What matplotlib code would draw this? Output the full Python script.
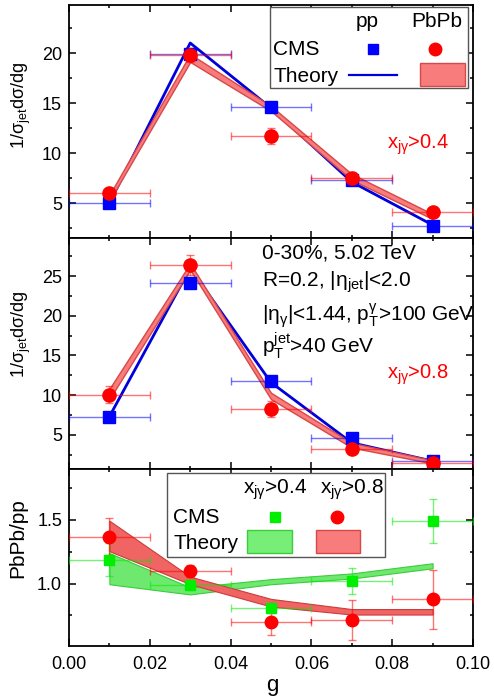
import matplotlib
matplotlib.use('Agg')
import matplotlib.pyplot as plt
import matplotlib.patches as mpatches
from matplotlib.ticker import MultipleLocator

plt.rcParams['font.family'] = ['Liberation Sans', 'DejaVu Sans']
plt.rcParams['mathtext.fontset'] = 'custom'
plt.rcParams['mathtext.rm'] = 'Liberation Sans'
plt.rcParams['mathtext.it'] = 'Liberation Sans'
plt.rcParams['mathtext.default'] = 'regular'

g = [0.01, 0.03, 0.05, 0.07, 0.09]
g_half = 0.01

# xjg > 0.4
pp04 = [4.97, 19.9, 14.56, 7.3, 2.7]
pp04_err = [0.5, 0.4, 0.4, 0.3, 0.2]
pb04 = [5.98, 19.8, 11.75, 7.5, 4.12]
pb04_err = [0.4, 0.7, 0.8, 0.6, 0.3]
th_pp04 = [5.0, 21.0, 14.5, 7.1, 2.8]
th_pb04_lo = [5.2, 19.1, 14.2, 7.3, 3.4]
th_pb04_hi = [5.8, 19.9, 14.7, 7.9, 3.9]

# xjg > 0.8
pp08 = [7.28, 24.1, 11.8, 4.58, 1.7]
pp08_err = [0.4, 0.6, 0.5, 0.3, 0.2]
pb08 = [10.06, 26.4, 8.25, 3.19, 1.42]
pb08_err = [1.1, 1.3, 1.0, 0.4, 0.3]
th_pp08 = [7.3, 26.0, 11.6, 4.0, 1.7]
th_pb08_lo = [9.5, 25.8, 9.5, 3.4, 1.4]
th_pb08_hi = [10.8, 26.6, 10.3, 4.0, 1.8]

# PbPb/pp
r04 = [1.186, 0.99, 0.81, 1.02, 1.49]
r04_err = [0.13, 0.04, 0.04, 0.1, 0.175]
r08 = [1.368, 1.10, 0.70, 0.713, 0.876]
r08_err = [0.145, 0.05, 0.10, 0.155, 0.23]
th_r04_lo = [0.995, 0.915, 0.995, 1.04, 1.12]
th_r04_hi = [1.24, 0.97, 1.035, 1.08, 1.16]
th_r08_lo = [1.255, 0.995, 0.82, 0.757, 0.757]
th_r08_hi = [1.494, 1.055, 0.88, 0.80, 0.80]

BLUE = '#0000ff'
RED = '#ff0000'
GREEN = '#00ee00'
RED_BAND = '#f87c7c'
RED_EDGE = '#d84848'
GREEN_BAND = '#6ee86e'
GREEN_EDGE = '#3ccc3c'

W, H = 494, 700
fig = plt.figure(figsize=(W / 100, H / 100), dpi=100)


def add_ax(top, bottom):
    return fig.add_axes([69 / W, 1 - bottom / H, 404 / W, (bottom - top) / H])


ax1 = add_ax(5, 238)
ax2 = add_ax(238, 469)
ax3 = add_ax(469, 646)


def style(ax):
    ax.set_xlim(0, 0.1)
    ax.xaxis.set_major_locator(MultipleLocator(0.02))
    ax.xaxis.set_minor_locator(MultipleLocator(0.01))
    ax.tick_params(which='both', direction='in', top=True, right=True,
                   labelsize=13, width=1.1)
    ax.tick_params(which='major', length=5)
    ax.tick_params(which='minor', length=2.5)
    ax.tick_params(axis='x', pad=7)
    ax.tick_params(axis='y', pad=5)
    for s in ax.spines.values():
        s.set_linewidth(1.3)


def points(ax, y, yerr, color, marker, ms):
    ax.errorbar(g, y, xerr=g_half, yerr=yerr, fmt='none', ecolor=color,
                elinewidth=1, capsize=3, capthick=1, alpha=0.55, zorder=4)
    ax.plot(g, y, ls='none', marker=marker, color=color, ms=ms, zorder=5)


def spectrum(ax, pp, pp_err, pb, pb_err, th_pp, lo, hi):
    ax.plot(g, th_pp, color='#0000dd', lw=2, zorder=2)
    ax.fill_between(g, lo, hi, facecolor=RED_BAND, edgecolor=RED_EDGE,
                    lw=1, zorder=3)
    points(ax, pp, pp_err, BLUE, 's', 8.5)
    points(ax, pb, pb_err, RED, 'o', 9.5)


# top panel
style(ax1)
spectrum(ax1, pp04, pp04_err, pb04, pb04_err, th_pp04, th_pb04_lo, th_pb04_hi)
ax1.set_ylim(1.5, 24.8)
ax1.yaxis.set_major_locator(MultipleLocator(5))
ax1.yaxis.set_minor_locator(MultipleLocator(2.5))
ax1.tick_params(axis='x', labelbottom=False)
ax1.text(0.786, 0.385, r'x$_{j\gamma}$>0.4', color=RED, fontsize=14.5,
         transform=ax1.transAxes)

# legend of top panel
T = ax1.transAxes
ax1.add_patch(mpatches.Rectangle((0.4975, 0.642), 0.49, 0.351, transform=T,
                                 facecolor='white', edgecolor='#555555',
                                 lw=1, zorder=6))
ax1.text(0.737, 0.905, 'pp', fontsize=15, ha='center', transform=T, zorder=7)
ax1.text(0.910, 0.905, 'PbPb', fontsize=15, ha='center', transform=T, zorder=7)
ax1.text(0.506, 0.785, 'CMS', fontsize=15, transform=T, zorder=7)
ax1.text(0.506, 0.671, 'Theory', fontsize=15, transform=T, zorder=7)
ax1.plot([0.752], [0.812], marker='s', color=BLUE, ms=7.5, transform=T, zorder=7)
ax1.plot([0.906], [0.812], marker='o', color=RED, ms=9, transform=T, zorder=7)
ax1.plot([0.694, 0.811], [0.70, 0.70], color='#0000dd', lw=1.6, transform=T,
         zorder=7)
ax1.add_patch(mpatches.Rectangle((0.869, 0.652), 0.111, 0.098, transform=T,
                                 facecolor=RED_BAND, edgecolor=RED_EDGE,
                                 lw=1, zorder=7))

# middle panel
style(ax2)
spectrum(ax2, pp08, pp08_err, pb08, pb08_err, th_pp08, th_pb08_lo, th_pb08_hi)
ax2.set_ylim(0.7, 29.8)
ax2.yaxis.set_major_locator(MultipleLocator(5))
ax2.yaxis.set_minor_locator(MultipleLocator(2.5))
ax2.tick_params(axis='x', labelbottom=False)
T = ax2.transAxes
ax2.text(0.477, 0.912, '0-30%, 5.02 TeV', fontsize=15, transform=T)
ax2.text(0.477, 0.789, r'R=0.2, |$\eta_{jet}$|<2.0', fontsize=15, transform=T)
ax2.text(0.477, 0.638, r'|$\eta_{\gamma}$|<1.44, p$_T^{\gamma}$>100 GeV',
         fontsize=15, transform=T)
ax2.text(0.477, 0.501, r'p$_T^{jet}$>40 GeV', fontsize=15, transform=T)
ax2.text(0.786, 0.393, r'x$_{j\gamma}$>0.8', color=RED, fontsize=14.5,
         transform=T)

# bottom panel
style(ax3)
ax3.fill_between(g, th_r04_lo, th_r04_hi, facecolor=GREEN_BAND,
                 edgecolor=GREEN_EDGE, lw=0.8, zorder=2)
ax3.fill_between(g, th_r08_lo, th_r08_hi, facecolor='#f06464',
                 edgecolor='#cc3c3c', lw=0.8, zorder=3)
points(ax3, r04, r04_err, GREEN, 's', 7.5)
points(ax3, r08, r08_err, RED, 'o', 9)
ax3.set_ylim(0.51, 1.9)
ax3.yaxis.set_major_locator(MultipleLocator(0.5))
ax3.yaxis.set_minor_locator(MultipleLocator(0.25))
ax3.xaxis.set_major_formatter(matplotlib.ticker.FormatStrFormatter('%.2f'))

T = ax3.transAxes
ax3.add_patch(mpatches.Rectangle((0.242, 0.504), 0.54, 0.475, transform=T,
                                 facecolor='white', edgecolor='#555555',
                                 lw=1, zorder=6))
ax3.text(0.51, 0.863, r'x$_{j\gamma}$>0.4', fontsize=15, ha='center',
         transform=T, zorder=7)
ax3.text(0.701, 0.863, r'x$_{j\gamma}$>0.8', fontsize=15, ha='center',
         transform=T, zorder=7)
ax3.text(0.258, 0.693, 'CMS', fontsize=15, transform=T, zorder=7)
ax3.text(0.258, 0.546, 'Theory', fontsize=15, transform=T, zorder=7)
ax3.plot([0.51], [0.73], marker='s', color=GREEN, ms=7, transform=T, zorder=7)
ax3.plot([0.664], [0.73], marker='o', color=RED, ms=9, transform=T, zorder=7)
ax3.add_patch(mpatches.Rectangle((0.44, 0.524), 0.111, 0.131, transform=T,
                                 facecolor='#77ee77', edgecolor=GREEN_EDGE,
                                 lw=1, zorder=7))
ax3.add_patch(mpatches.Rectangle((0.611, 0.524), 0.109, 0.131, transform=T,
                                 facecolor=RED_BAND, edgecolor=RED_EDGE,
                                 lw=1, zorder=7))

# axis labels
ylab = r'1/$\sigma_{jet}$d$\sigma$/dg'
fig.text(21 / W, 1 - 105 / H, ylab, rotation=90, ha='center', va='center',
         fontsize=13)
fig.text(21 / W, 1 - 334 / H, ylab, rotation=90, ha='center', va='center',
         fontsize=13)
fig.text(18 / W, 1 - 538 / H, 'PbPb/pp', rotation=90, ha='center',
         va='center', fontsize=15)
fig.text(272 / W, 1 - 686 / H, 'g', ha='center', va='center', fontsize=16)

fig.savefig('out.png', dpi=100)
